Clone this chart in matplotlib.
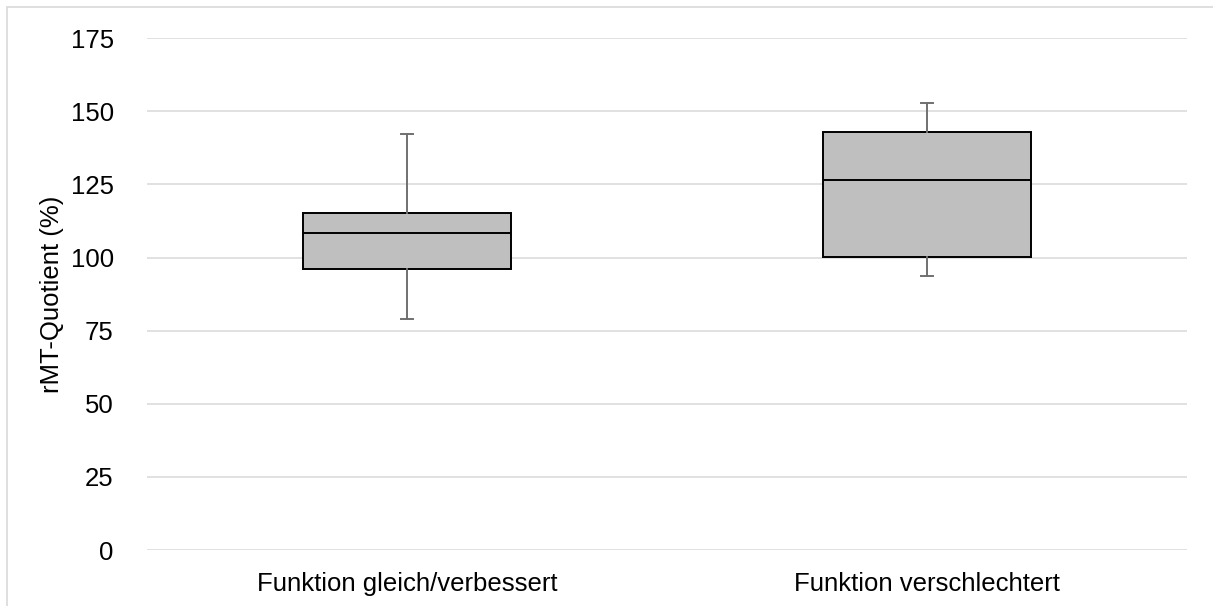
import matplotlib
matplotlib.use("Agg")
import matplotlib.pyplot as plt
from matplotlib.patches import Rectangle

# values (rMT-Quotient in %)
categories = ["Funktion gleich/verbessert", "Funktion verschlechtert"]
whisker_low = [79.1, 93.8]
q1 = [96.0, 100.1]
median = [108.5, 126.5]
q3 = [115.4, 142.8]
whisker_high = [142.2, 152.8]
yticks = [0, 25, 50, 75, 100, 125, 150, 175]


def main():
    plt.rcParams["font.family"] = ["Liberation Sans", "DejaVu Sans"]
    fig = plt.figure(figsize=(12.13, 6.06), dpi=100)
    ax = fig.add_axes([147 / 1213, 56 / 606, 1040 / 1213, 511.7 / 606])

    stats = []
    for i, name in enumerate(categories):
        stats.append({
            "label": name,
            "whislo": whisker_low[i],
            "q1": q1[i],
            "med": median[i],
            "q3": q3[i],
            "whishi": whisker_high[i],
            "fliers": [],
        })

    ax.bxp(
        stats,
        positions=[0, 1],
        widths=0.4,
        patch_artist=True,
        showfliers=False,
        capwidths=0.022,
        boxprops=dict(facecolor="#BFBFBF", edgecolor="black", linewidth=1.4),
        medianprops=dict(color="black", linewidth=1.4),
        whiskerprops=dict(color="#707070", linewidth=1.4),
        capprops=dict(color="#707070", linewidth=1.4),
        zorder=3,
    )

    ax.set_xlim(-0.5, 1.5)
    ax.set_ylim(0, 175)
    ax.set_yticks(yticks)
    ax.set_yticklabels([str(v) for v in yticks], fontsize=18.5)
    ax.set_xticks([0, 1])
    ax.set_xticklabels(categories, fontsize=18.5)
    ax.tick_params(axis="y", length=0, pad=24)
    ax.tick_params(axis="x", length=0, pad=15.5)
    ax.yaxis.grid(True, color="#D9D9D9", linewidth=1.1)
    ax.set_axisbelow(True)
    for s in ax.spines.values():
        s.set_visible(False)
    ax.set_ylabel("rMT-Quotient (%)", fontsize=18.5, labelpad=5)

    # chart border (only top and left visible in the crop)
    fig.add_artist(Rectangle((7 / 1213, -0.1), 2, 1.1 - 7 / 606,
                             transform=fig.transFigure, fill=False,
                             edgecolor="#D9D9D9", linewidth=1.2))

    fig.savefig("out.png", dpi=100)


if __name__ == "__main__":
    main()
